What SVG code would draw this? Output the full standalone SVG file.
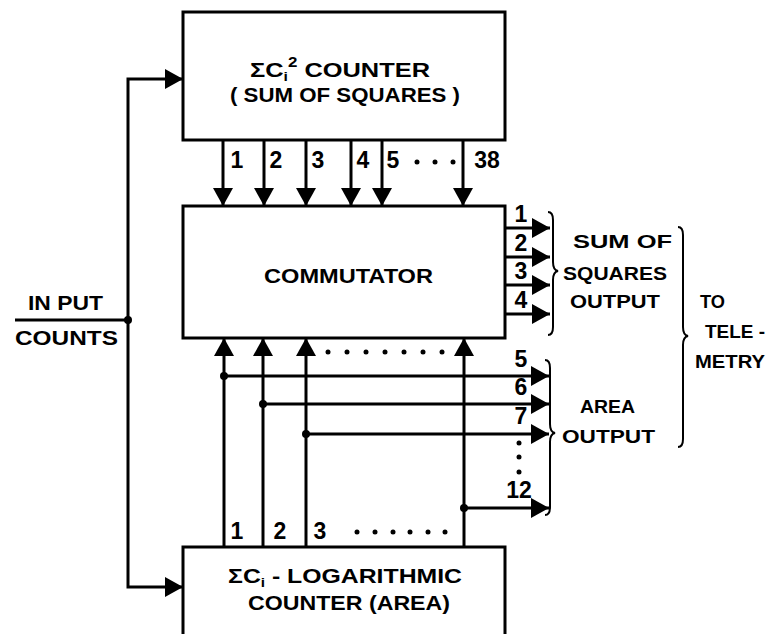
<svg xmlns="http://www.w3.org/2000/svg" width="768" height="634" viewBox="0 0 768 634">
<defs>
<marker id="ah" viewBox="0 0 18 20" refX="18" refY="10" markerWidth="18" markerHeight="20" markerUnits="userSpaceOnUse" orient="auto">
<path d="M0,0 L18,10 L0,20 Z" fill="#000"/>
</marker>
<style>
.box{fill:#fff;stroke:#000;stroke-width:3}
.ln{fill:none;stroke:#000;stroke-width:3}
.ar{fill:none;stroke:#000;stroke-width:3;marker-end:url(#ah)}
.br{fill:none;stroke:#000;stroke-width:2}
text{font-family:"Liberation Sans",Arial,sans-serif;font-weight:bold;fill:#000}
.t{font-size:21px}
.n{font-size:23px;text-anchor:middle}
.s{font-size:19px}
.dot{fill:#000}
</style>
</defs>
<rect width="768" height="634" fill="#fff"/>

<g id="sumsq-counter">
<rect class="box" x="183" y="12" width="322" height="128"/>
<text class="t" x="250" y="77" textLength="180" lengthAdjust="spacingAndGlyphs">ΣC<tspan font-size="13" dy="4">i</tspan><tspan font-size="14" dy="-14">2</tspan><tspan dy="10"> COUNTER</tspan></text>
<text class="t" x="230" y="102" textLength="230" lengthAdjust="spacingAndGlyphs">( SUM OF  SQUARES )</text>
</g>

<g id="commutator">
<rect class="box" x="183" y="206" width="322" height="132"/>
<text class="t" x="264" y="283" font-size="22" textLength="169" lengthAdjust="spacingAndGlyphs">COMMUTATOR</text>
</g>

<g id="log-counter">
<path class="box" d="M183,640 L183,547 L505,547 L505,640"/>
<text class="t" x="228" y="583" textLength="234" lengthAdjust="spacingAndGlyphs">ΣC<tspan font-size="13" dy="4">i</tspan><tspan dy="-4"> - LOGARITHMIC</tspan></text>
<text class="t" x="248" y="610" textLength="202" lengthAdjust="spacingAndGlyphs">COUNTER (AREA)</text>
</g>

<g id="input-label">
<text class="t" x="28" y="310" font-size="20" textLength="75" lengthAdjust="spacingAndGlyphs">IN PUT</text>
<text class="t" x="15" y="345" font-size="20" textLength="103" lengthAdjust="spacingAndGlyphs">COUNTS</text>
</g>

<g id="sumsq-output-label">
<text class="s" x="573" y="248" textLength="99" lengthAdjust="spacingAndGlyphs">SUM  OF</text>
<text class="s" x="563" y="280" textLength="104" lengthAdjust="spacingAndGlyphs">SQUARES</text>
<text class="s" x="570" y="308" textLength="90" lengthAdjust="spacingAndGlyphs">OUTPUT</text>
</g>

<g id="area-output-label">
<text class="s" x="580" y="413" textLength="55" lengthAdjust="spacingAndGlyphs">AREA</text>
<text class="s" x="562" y="443" textLength="93" lengthAdjust="spacingAndGlyphs">OUTPUT</text>
</g>

<g id="telemetry-label">
<text class="s" x="700" y="308" font-size="20" textLength="25" lengthAdjust="spacingAndGlyphs">TO</text>
<text class="s" x="705" y="338" font-size="20" textLength="60" lengthAdjust="spacingAndGlyphs">TELE -</text>
<text class="s" x="695" y="368" font-size="20" textLength="70" lengthAdjust="spacingAndGlyphs">METRY</text>
</g>

<g id="connectors">
<path class="ln" d="M15,320 L128,320"/>
<path class="ar" d="M128,320 L128,79 L183,79"/>
<path class="ar" d="M128,320 L128,587 L183,587"/>
<circle class="dot" cx="128" cy="320" r="4"/>

<path class="ar" d="M223,140 L223,206"/>
<path class="ar" d="M264,140 L264,206"/>
<path class="ar" d="M306,140 L306,206"/>
<path class="ar" d="M351,140 L351,206"/>
<path class="ar" d="M382,140 L382,206"/>
<path class="ar" d="M463,140 L463,206"/>

<path class="ar" d="M505,228 L550,228"/>
<path class="ar" d="M505,257 L550,257"/>
<path class="ar" d="M505,285 L550,285"/>
<path class="ar" d="M505,314 L550,314"/>

<path class="ar" d="M224,547 L224,338"/>
<path class="ar" d="M263,547 L263,338"/>
<path class="ar" d="M306,547 L306,338"/>
<path class="ar" d="M464,547 L464,338"/>

<path class="ar" d="M224,376 L549,376"/>
<path class="ar" d="M263,404 L549,404"/>
<path class="ar" d="M306,434 L549,434"/>
<path class="ar" d="M464,508 L549,508"/>
<circle class="dot" cx="224" cy="376" r="4"/>
<circle class="dot" cx="263" cy="404" r="4"/>
<circle class="dot" cx="306" cy="434" r="4"/>
<circle class="dot" cx="464" cy="508" r="4"/>

<path class="br" d="M548,212 Q553,212 553,220 L553,262 Q553,270 558,271 Q553,272 553,280 L553,327 Q553,335 548,335"/>
<path class="br" d="M545,360 Q550,360 550,368 L550,424 Q550,432 555,433 Q550,434 550,442 L550,507 Q550,515 545,515"/>
<path class="br" d="M678,227 Q683,227 683,235 L683,327 Q683,335 688,336 Q683,337 683,345 L683,439 Q683,447 678,447"/>
</g>

<g id="labels">
<text class="n" x="237" y="168">1</text>
<text class="n" x="276" y="168">2</text>
<text class="n" x="318" y="168">3</text>
<text class="n" x="363" y="168">4</text>
<text class="n" x="393" y="168">5</text>
<circle class="dot" cx="417" cy="162" r="2.5"/>
<circle class="dot" cx="435" cy="162" r="2.5"/>
<circle class="dot" cx="453" cy="162" r="2.5"/>
<text class="n" x="487" y="168">38</text>

<text class="n" x="521" y="222">1</text>
<text class="n" x="521" y="251">2</text>
<text class="n" x="521" y="279">3</text>
<text class="n" x="521" y="308">4</text>

<circle class="dot" cx="328" cy="352" r="2.5"/>
<circle class="dot" cx="347" cy="352" r="2.5"/>
<circle class="dot" cx="366" cy="352" r="2.5"/>
<circle class="dot" cx="385" cy="352" r="2.5"/>
<circle class="dot" cx="404" cy="352" r="2.5"/>
<circle class="dot" cx="423" cy="352" r="2.5"/>
<circle class="dot" cx="442" cy="352" r="2.5"/>

<text class="n" x="521" y="367">5</text>
<text class="n" x="521" y="395">6</text>
<text class="n" x="521" y="424">7</text>
<circle class="dot" cx="519" cy="443" r="2.5"/>
<circle class="dot" cx="519" cy="457" r="2.5"/>
<circle class="dot" cx="519" cy="472" r="2.5"/>
<text class="n" x="519" y="498">12</text>

<text class="n" x="237" y="539">1</text>
<text class="n" x="280" y="539">2</text>
<text class="n" x="320" y="539">3</text>
<circle class="dot" cx="357" cy="532" r="2.5"/>
<circle class="dot" cx="375" cy="532" r="2.5"/>
<circle class="dot" cx="393" cy="532" r="2.5"/>
<circle class="dot" cx="410" cy="532" r="2.5"/>
<circle class="dot" cx="428" cy="532" r="2.5"/>
<circle class="dot" cx="445" cy="532" r="2.5"/>
</g>
</svg>
